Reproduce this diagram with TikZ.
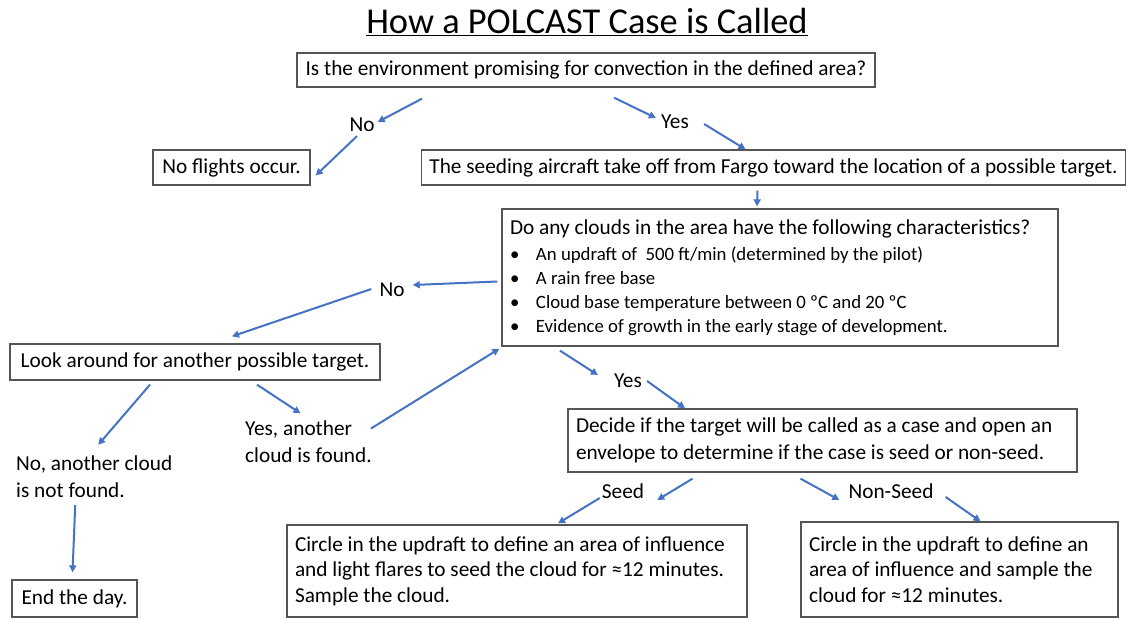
\documentclass[tikz,border=0pt]{standalone}
\usepackage{fontspec}
\setmainfont{Carlito}
\usetikzlibrary{arrows.meta}
\definecolor{arrblue}{RGB}{68,114,196}
\definecolor{boxgray}{RGB}{85,85,85}
\tikzset{
  box/.style={draw=boxgray, line width=1.3pt, inner xsep=8pt, inner ysep=0pt, align=flush left,
    font=\fontsize{21.3}{27}\selectfont},
  lbl/.style={inner sep=1pt, align=flush left, font=\fontsize{21.3}{27}\selectfont},
  arr/.style={draw=arrblue, line width=2pt, -{Triangle[length=7pt,width=7pt]}}
}
\newcommand{\bul}{\makebox[26pt][l]{\textbullet}}
\begin{document}
\begin{tikzpicture}[x=1pt,y=-1pt]
		\useasboundingbox (0,0) rectangle (1133,619);
		% title
		\node (title) at (587,22) {\fontsize{36.4}{40}\selectfont\underline{How a POLCAST Case is Called}};
		% boxes
		\node [box, minimum width=578, minimum height=34] (q1) at (586,70)
		  {Is the environment promising for convection in the defined area?};
		\node [box, minimum width=157, minimum height=35] (nofly) at (231.5,167.5) {No flights occur.};
		\node [box, minimum width=703, minimum height=35] (takeoff) at (773.5,167.5)
		  {The seeding aircraft take off from Fargo toward the location of a possible target.};
		\node [box, minimum height=137, text width=540, font=\fontsize{21.3}{24}\selectfont] (q2) at (780,277.5)
		  {Do any clouds in the area have the following characteristics?\\[2pt]
		   {\fontsize{18.8}{24}\selectfont
		   \bul An updraft of \ 500 ft/min (determined by the pilot)\\
		   \bul A rain free base\\
		   \bul Cloud base temperature between 0 ºC and 20 ºC\\
		   \bul Evidence of growth in the early stage of development.}};
		\node [box, minimum width=370, minimum height=36] (look) at (195,362) {Look around for another possible target.};
		\node [box, minimum width=125, minimum height=37] (endday) at (74.5,598.5) {End the day.};
		\node [box, minimum height=63, text width=493] (decide) at (822.5,440.5)
		  {Decide if the target will be called as a case and open an\\
		   envelope to determine if the case is seed or non-seed.};
		\node [box, minimum height=92, text width=444, font=\fontsize{21.3}{25.5}\selectfont] (seed) at (517,571)
		  {Circle in the updraft to define an area of influence\\
		   and light flares to seed the cloud for ≈12 minutes.\\
		   Sample the cloud.};
		\node [box, minimum height=95, text width=301, font=\fontsize{21.3}{25.5}\selectfont] (nonseed) at (959.5,569.5)
		  {Circle in the updraft to define an\\
		   area of influence and sample the\\
		   cloud for ≈12 minutes.};
		% labels
		\node [lbl] (no1) at (362,125) {No};
		\node [lbl] (yes1) at (675,122) {Yes};
		\node [lbl] (no2) at (392,290) {No};
		\node [lbl] (yes2) at (628,381) {Yes};
		\node [lbl, anchor=west] (noc) at (15,477) {No, another cloud\\is not found.};
		\node [lbl, anchor=west] (yesc) at (244,441.5) {Yes, another\\cloud is found.};
		\node [lbl] (lseed) at (623,491) {Seed};
		\node [lbl] (lnon) at (891,491) {Non-Seed};
		% arrows
		\draw [arr] ([shift={(-164,11)}]q1.south) -- ([shift={(2,-3)}]no1.east);
		\draw [arr] ([shift={(-5,3)}]no1.south) -- ([shift={(5,8)}]nofly.east);
		\draw [arr] ([shift={(28,10)}]q1.south) -- ([shift={(-4,-4)}]yes1.west);
		\draw [arr] ([shift={(14,2)}]yes1.east) -- ([xshift=-28]takeoff.north);
		\draw [arr] ([shift={(-16,5)}]takeoff.south) -- ([shift={(-23,-2)}]q2.north);
		\draw [arr] ([shift={(-4,4)}]q2.west) -- ([shift={(7,-5)}]no2.east);
		\draw [arr] ([shift={(-7,-1)}]no2.west) -- ([shift={(37,-7)}]look.north);
		\draw [arr] ([shift={(-45,4)}]look.south) -- ([shift={(4,-10)}]noc.north);
		\draw [arr] ([shift={(62,4)}]look.south) -- ([shift={(-8,-6)}]yesc.north);
		\draw [arr] ([shift={(-2,-13)}]yesc.east) -- ([shift={(-2,2)}]q2.south west);
		\draw [arr] ([shift={(-19,6)}]noc.south) -- ([shift={(-2,-7)}]endday.north);
		\draw [arr] ([shift={(-220,4)}]q2.south) -- ([shift={(-15,-6)}]yes2.west);
		\draw [arr] ([xshift=4]yes2.east) -- ([xshift=-137.5]decide.north);
		\draw [arr] ([shift={(-130,6)}]decide.south) -- ([shift={(12,9)}]lseed.east);
		\draw [arr] ([shift={(-1,7)}]lseed.west) -- ([shift={(41,-1)}]seed.north);
		\draw [arr] ([shift={(-22,6)}]decide.south) -- ([shift={(-8,9)}]lnon.west);
		\draw [arr] ([shift={(11,6)}]lnon.east) -- ([shift={(21,0)}]nonseed.north);
		\end{tikzpicture}
\end{document}
